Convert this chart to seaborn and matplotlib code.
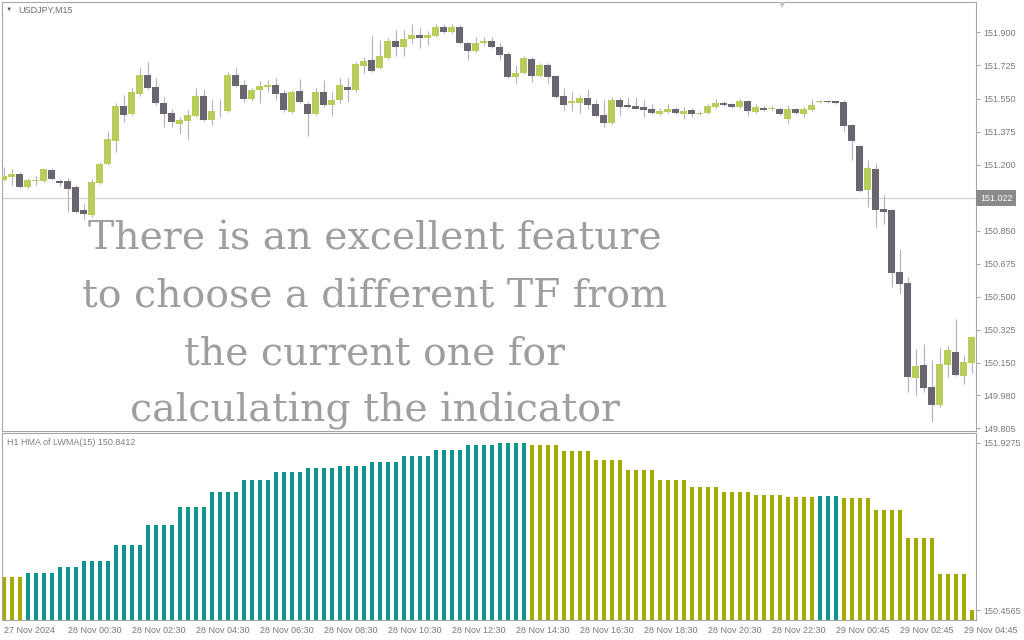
import numpy as np
import pandas as pd
import seaborn as sns
import matplotlib.pyplot as plt

# USDJPY M15 candles (27-29 Nov 2024)
opens = [
    151.121, 151.132, 151.149, 151.082, 151.115, 151.114, 151.170, 151.112, 151.115, 151.079,
    150.961, 150.934, 151.103, 151.202, 151.324, 151.509, 151.467, 151.573, 151.677, 151.610,
    151.524, 151.472, 151.414, 151.431, 151.458, 151.562, 151.434, 151.482, 151.486, 151.674,
    151.621, 151.546, 151.597, 151.612, 151.621, 151.580, 151.479, 151.589, 151.520, 151.467,
    151.584, 151.515, 151.540, 151.610, 151.594, 151.723, 151.753, 151.709, 151.764, 151.854,
    151.824, 151.865, 151.886, 151.871, 151.882, 151.926, 151.903, 151.926, 151.845, 151.803,
    151.846, 151.854, 151.825, 151.785, 151.665, 151.683, 151.759, 151.669, 151.727, 151.668,
    151.562, 151.524, 151.527, 151.553, 151.519, 151.462, 151.421, 151.541, 151.515, 151.509,
    151.505, 151.494, 151.470, 151.478, 151.494, 151.469, 151.488, 151.470, 151.474, 151.506,
    151.525, 151.520, 151.506, 151.536, 151.479, 151.502, 151.495, 151.497, 151.442, 151.492,
    151.467, 151.488, 151.529, 151.536, 151.536, 151.530, 151.409, 151.297, 151.067, 151.176,
    150.965, 150.958, 150.630, 150.573, 150.068, 150.137, 150.020, 149.925, 150.137, 150.206,
    150.078, 150.149]
closes = [
    151.138, 151.151, 151.082, 151.117, 151.117, 151.176, 151.124, 151.103, 151.072, 150.949,
    150.941, 151.107, 151.202, 151.335, 151.511, 151.462, 151.585, 151.677, 151.606, 151.527,
    151.469, 151.423, 151.435, 151.462, 151.562, 151.435, 151.483, 151.484, 151.674, 151.615,
    151.549, 151.594, 151.615, 151.624, 151.575, 151.488, 151.584, 151.532, 151.467, 151.584,
    151.515, 151.541, 151.621, 151.597, 151.732, 151.748, 151.697, 151.774, 151.856, 151.824,
    151.865, 151.886, 151.872, 151.884, 151.926, 151.903, 151.926, 151.845, 151.803, 151.846,
    151.856, 151.824, 151.782, 151.665, 151.686, 151.764, 151.669, 151.727, 151.665, 151.559,
    151.517, 151.538, 151.553, 151.516, 151.456, 151.421, 151.541, 151.506, 151.505, 151.497,
    151.488, 151.471, 151.484, 151.495, 151.474, 151.483, 151.469, 151.475, 151.509, 151.527,
    151.516, 151.506, 151.537, 151.484, 151.506, 151.491, 151.498, 151.469, 151.497, 151.474,
    151.492, 151.515, 151.536, 151.529, 151.527, 151.406, 151.326, 151.061, 151.180, 150.962,
    150.951, 150.626, 150.570, 150.075, 150.131, 150.016, 149.925, 150.142, 150.216, 150.084,
    150.153, 150.287]
highs = [
    151.186, 151.179, 151.161, 151.129, 151.140, 151.182, 151.182, 151.123, 151.129, 151.094,
    150.994, 151.123, 151.214, 151.377, 151.524, 151.571, 151.603, 151.709, 151.744, 151.656,
    151.559, 151.497, 151.453, 151.488, 151.606, 151.598, 151.541, 151.546, 151.691, 151.712,
    151.647, 151.605, 151.642, 151.647, 151.659, 151.594, 151.594, 151.653, 151.532, 151.603,
    151.647, 151.584, 151.659, 151.656, 151.744, 151.771, 151.882, 151.859, 151.871, 151.912,
    151.912, 151.942, 151.921, 151.909, 151.942, 151.942, 151.942, 151.939, 151.850, 151.877,
    151.877, 151.877, 151.842, 151.796, 151.727, 151.775, 151.771, 151.736, 151.736, 151.674,
    151.603, 151.585, 151.568, 151.598, 151.541, 151.541, 151.559, 151.559, 151.559, 151.557,
    151.541, 151.520, 151.499, 151.520, 151.506, 151.506, 151.500, 151.483, 151.520, 151.545,
    151.536, 151.525, 151.550, 151.541, 151.520, 151.515, 151.509, 151.506, 151.515, 151.501,
    151.503, 151.550, 151.541, 151.539, 151.539, 151.541, 151.414, 151.303, 151.223, 151.206,
    151.038, 150.963, 150.755, 150.605, 150.225, 150.252, 150.163, 150.230, 150.237, 150.384,
    150.190, 150.290]
lows = [
    151.112, 151.094, 151.077, 151.077, 151.094, 151.109, 151.120, 151.087, 150.949, 150.945,
    150.914, 150.923, 151.099, 151.197, 151.267, 151.426, 151.462, 151.562, 151.602, 151.515,
    151.400, 151.400, 151.361, 151.335, 151.454, 151.430, 151.409, 151.453, 151.480, 151.610,
    151.531, 151.536, 151.524, 151.585, 151.541, 151.479, 151.472, 151.528, 151.352, 151.462,
    151.506, 151.458, 151.524, 151.529, 151.585, 151.683, 151.691, 151.706, 151.759, 151.776,
    151.776, 151.842, 151.818, 151.833, 151.878, 151.895, 151.899, 151.841, 151.753, 151.798,
    151.833, 151.819, 151.753, 151.660, 151.630, 151.679, 151.638, 151.663, 151.630, 151.554,
    151.488, 151.483, 151.471, 151.494, 151.451, 151.397, 151.417, 151.462, 151.499, 151.494,
    151.453, 151.467, 151.464, 151.472, 151.470, 151.444, 151.450, 151.464, 151.470, 151.501,
    151.512, 151.501, 151.501, 151.459, 151.475, 151.486, 151.486, 151.464, 151.418, 151.470,
    151.453, 151.486, 151.525, 151.525, 151.523, 151.380, 151.226, 151.056, 150.973, 150.867,
    150.888, 150.552, 150.517, 149.995, 149.978, 149.995, 149.836, 149.919, 150.075, 150.078,
    150.040, 150.094]

# H1 HMA values: each hourly level spans several M15 bars
hma_levels = [150.749, 150.784, 150.832, 150.890, 151.031, 151.207, 151.365, 151.497,
              151.600, 151.670, 151.705, 151.723, 151.758, 151.811, 151.863, 151.907,
              151.9275, 151.907, 151.855, 151.776, 151.688, 151.600, 151.538, 151.494,
              151.468, 151.450, 151.459, 151.441, 151.336, 151.090, 150.773, 150.4565]
hma_bars = [3, 4, 3, 4, 4, 4, 4, 4, 4, 4, 4, 4, 4, 4, 4, 4,
            4, 4, 4, 4, 4, 4, 4, 4, 4, 4, 3, 4, 4, 4, 4, 1]
hma_trend = ['down'] + ['up'] * 16 + ['down'] * 9 + ['up'] + ['down'] * 5

price_ticks = [151.900, 151.725, 151.550, 151.375, 151.200, 150.850, 150.675,
               150.500, 150.325, 150.150, 149.978, 149.803]
price_labels = ['151.900', '151.725', '151.550', '151.375', '151.200', '150.850', '150.675',
                '150.500', '150.325', '150.150', '149.980', '149.805']
current_price = 151.022

time_ticks = [0, 8, 16, 24, 32, 40, 48, 56, 64, 72, 80, 88, 96, 104, 112, 120]
time_labels = ['27 Nov 2024', '28 Nov 00:30', '28 Nov 02:30', '28 Nov 04:30', '28 Nov 06:30',
               '28 Nov 08:30', '28 Nov 10:30', '28 Nov 12:30', '28 Nov 14:30', '28 Nov 16:30',
               '28 Nov 18:30', '28 Nov 20:30', '28 Nov 22:30', '29 Nov 00:45', '29 Nov 02:45',
               '29 Nov 04:45']

overlay_lines = ['There is an excellent feature', 'to choose a different TF from',
                 'the current one for', 'calculating the indicator']

bull_col = '#B9CD5B'
bear_col = '#6B6471'
wick_col = '#B4B0BA'
teal = '#0F9590'
olive = '#A5AA00'
frame_col = '#A6A6A6'
text_col = '#7A7A7A'

sns.set_style('white')
plt.rcParams['font.family'] = ['Liberation Sans', 'DejaVu Sans']

W, H = 1024, 640
fig = plt.figure(figsize=(10.24, 6.4), dpi=100)
ax = fig.add_axes([2 / W, (H - 430.5) / H, 974 / W, 428.5 / H])
ax2 = fig.add_axes([2 / W, (H - 620) / H, 974 / W, 187 / H])

bar_idx = np.arange(len(opens))
o = np.array(opens)
c = np.array(closes)
is_up = c >= o

# candles: wicks then bodies
ax.vlines(bar_idx, lows, highs, color=wick_col, lw=0.8, zorder=2)
ax.bar(bar_idx, np.maximum(np.abs(c - o), 0.004), bottom=np.minimum(o, c), width=0.82,
       color=np.where(is_up, bull_col, bear_col), linewidth=0, zorder=3)
ax.axhline(current_price, color='#CFCFD6', lw=0.8, zorder=1)

ax.set_xlim(-0.19, 121.56)
ax.set_ylim(149.792, 152.061)
ax.set_xticks([])
ax.yaxis.tick_right()
ax.set_yticks(price_ticks)
ax.set_yticklabels(price_labels)
ax.tick_params(axis='y', direction='out', length=3, width=0.7, color=frame_col,
               labelsize=6.5, labelcolor=text_col, pad=2)
ax.annotate(f'{current_price:.3f}', xy=(1.004, current_price), xycoords=('axes fraction', 'data'),
            ha='left', va='center', fontsize=6.5, color='white', annotation_clip=False,
            bbox=dict(boxstyle='square,pad=0.4', fc='#8A8A8A', ec='none'))

# lower window: H1 HMA histogram
hma_df = pd.DataFrame({'bar': bar_idx,
                       'hma': np.repeat(hma_levels, hma_bars),
                       'trend': np.repeat(hma_trend, hma_bars)})
sns.barplot(data=hma_df, x='bar', y='hma', hue='trend', palette={'up': teal, 'down': olive},
            dodge=False, width=0.5, native_scale=True, errorbar=None, legend=False,
            saturation=1, linewidth=0, ax=ax2)
ax2.set_xlim(-0.19, 121.56)
ax2.set_ylim(150.3686, 152.0128)
ax2.set_xlabel('')
ax2.set_ylabel('')
ax2.yaxis.tick_right()
ax2.set_yticks([151.9275, 150.4565])
ax2.set_yticklabels(['151.9275', '150.4565'])
ax2.tick_params(axis='y', direction='out', length=3, width=0.7, color=frame_col,
                labelsize=6.5, labelcolor=text_col, pad=2)
ax2.set_xticks(time_ticks)
ax2.set_xticklabels(time_labels)
ax2.tick_params(axis='x', direction='out', length=3, width=0.7, color=frame_col,
                labelsize=6.5, labelcolor=text_col, pad=1)
for lab in ax2.get_xticklabels():
    lab.set_ha('left')

for a in (ax, ax2):
    for s in a.spines.values():
        s.set_visible(True)
        s.set_color(frame_col)
        s.set_linewidth(0.8)

# window captions
fig.text(9 / W, 1 - 9.5 / H, '▼', fontsize=4.5, ha='center', va='center', color='#555555')
fig.text(18 / W, 1 - 10 / H, 'USDJPY,M15', fontsize=6.5, va='center', color='#6E6E6E')
fig.text(7 / W, 1 - 442.5 / H, 'H1 HMA of LWMA(15) 150.8412', fontsize=6.5, va='center',
         color='#808080')
fig.text(782 / W, 1 - 5 / H, '▼', fontsize=7.5, ha='center', va='center', color='#C8C8C8')

# overlay caption
for k, line in enumerate(overlay_lines):
    fig.text(375 / W, 1 - (250 + 57.3 * k) / H, line, ha='center', va='baseline',
             fontsize=28.4, family='DejaVu Serif', color='#9E9E9E')

fig.savefig('out.png', dpi=100)
